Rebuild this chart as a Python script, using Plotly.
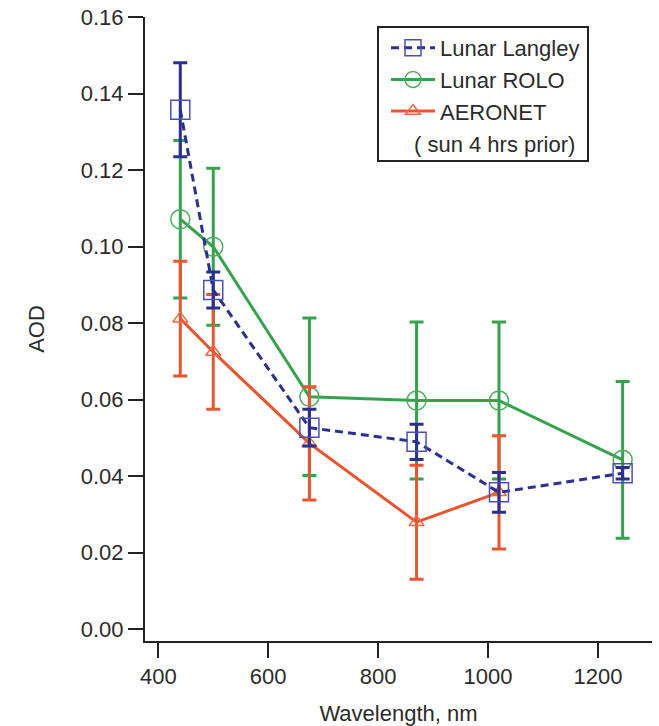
import plotly.graph_objects as go

# ---- data ----
wavelength_lunar = [440, 500, 675, 870, 1020, 1245]
wavelength_aeronet = [440, 500, 675, 870, 1020]

langley_aod = [0.1358, 0.0887, 0.0527, 0.0490, 0.0358, 0.0408]
langley_err = [0.0123, 0.0047, 0.0048, 0.0046, 0.0052, 0.0015]

rolo_aod = [0.1072, 0.1000, 0.0608, 0.0598, 0.0598, 0.0443]
rolo_err = [0.0206, 0.0205, 0.0206, 0.0205, 0.0205, 0.0205]

aeronet_aod = [0.0812, 0.0725, 0.0486, 0.0280, 0.0358]
aeronet_err = [0.0150, 0.0150, 0.0148, 0.0149, 0.0148]

x_ticks = [400, 600, 800, 1000, 1200]
y_ticks = [0.00, 0.02, 0.04, 0.06, 0.08, 0.10, 0.12, 0.14, 0.16]

names = ["Lunar Langley", "Lunar ROLO", "AERONET"]
note = "( sun 4 hrs prior)"

# ---- styling ----
FONT = "Liberation Sans, Arial, Helvetica, sans-serif"
TXT = "#2b2b2b"
BLUE_L, BLUE_M = "#2a2f90", "#4a50b4"
GREEN_L, GREEN_M = "#35a24c", "#4aad5e"
RED_L, RED_M = "#e8552f", "#ea6a45"

fig = go.Figure()

fig.add_trace(go.Scatter(
    x=wavelength_lunar, y=rolo_aod, name=names[1], legendrank=2,
    mode="lines+markers",
    line=dict(color=GREEN_L, width=3),
    marker=dict(symbol="circle-open", size=19, color=GREEN_M, line=dict(width=1.5, color=GREEN_M)),
    error_y=dict(type="data", array=rolo_err, visible=True, color=GREEN_L, thickness=3, width=7),
))
fig.add_trace(go.Scatter(
    x=wavelength_aeronet, y=aeronet_aod, name=names[2], legendrank=3,
    mode="lines+markers",
    line=dict(color=RED_L, width=3),
    marker=dict(symbol="triangle-up-open", size=13, color=RED_M, line=dict(width=1.5, color=RED_M)),
    error_y=dict(type="data", array=aeronet_err, visible=True, color=RED_L, thickness=3, width=7),
))
fig.add_trace(go.Scatter(
    x=wavelength_lunar, y=langley_aod, name=names[0], legendrank=1,
    mode="lines+markers",
    line=dict(color=BLUE_L, width=3, dash="8px,5px"),
    marker=dict(symbol="square-open", size=19, color=BLUE_M, line=dict(width=1.5, color=BLUE_M)),
    error_y=dict(type="data", array=langley_err, visible=True, color=BLUE_L, thickness=3, width=7),
))

L, R, T, B = 145, 7, 17, 85
W, H = 659 - L - R, 726 - T - B

axis_common = dict(
    showline=True, linecolor="#222222", linewidth=2,
    ticks="outside", ticklen=15, tickwidth=2, tickcolor="#222222",
    showgrid=False, zeroline=False, mirror=False,
    tickfont=dict(family=FONT, size=22, color=TXT),
    automargin=False,
)

fig.update_layout(
    width=659, height=726,
    margin=dict(l=L, r=R, t=T, b=B),
    paper_bgcolor="white", plot_bgcolor="white",
    font=dict(family=FONT, size=22, color=TXT),
    showlegend=True,
    legend=dict(
        x=(386 - L) / W, y=(726 - B - 27) / H, xanchor="left", yanchor="top",
        bgcolor="rgba(0,0,0,0)", borderwidth=0,
        font=dict(family=FONT, size=22, color=TXT),
        itemwidth=44, tracegroupgap=0,
    ),
    xaxis=dict(
        range=[375.8, 375.8 + W / 0.5495],
        tickvals=x_ticks,
        title=dict(text="Wavelength, nm", font=dict(family=FONT, size=22, color=TXT), standoff=19),
        **axis_common,
    ),
    yaxis=dict(
        range=[-0.00306, -0.00306 + H * 0.0002614],
        tickvals=y_ticks, tickformat=".2f",
        title=dict(text="AOD", font=dict(family=FONT, size=22, color=TXT), standoff=30),
        **axis_common,
    ),
    shapes=[dict(
        type="rect", xref="paper", yref="paper",
        x0=(378 - L) / W, x1=(588 - L) / W,
        y0=(726 - B - 161) / H, y1=(726 - B - 27) / H,
        line=dict(color="#222222", width=2), fillcolor="rgba(0,0,0,0)", layer="above",
    )],
    annotations=[dict(
        text=note, xref="paper", yref="paper",
        x=(412 - L) / W, y=(726 - B - 144) / H, xanchor="left", yanchor="middle",
        showarrow=False, font=dict(family=FONT, size=22, color=TXT),
    )],
)

fig.write_html("out.html")
